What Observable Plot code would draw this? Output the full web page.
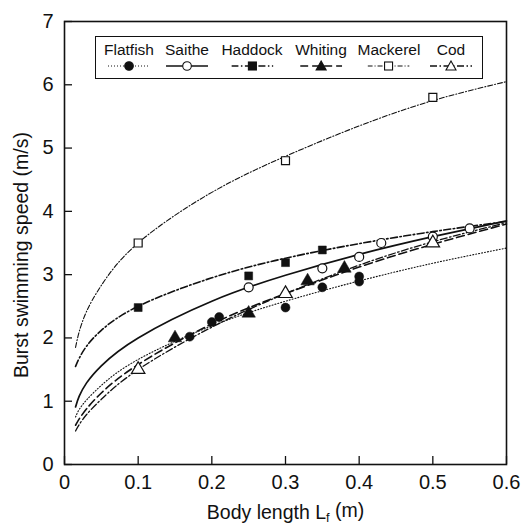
<!DOCTYPE html>
<html><head><meta charset="utf-8">
<script src="https://cdn.jsdelivr.net/npm/d3@7"></script>
<script src="https://cdn.jsdelivr.net/npm/@observablehq/plot@0.6"></script>
<style>
body{margin:0;background:#fff;font-family:"Liberation Sans",Arial,Helvetica,sans-serif;}
#wrap{position:relative;width:529px;height:526px;}
#legend{position:absolute;left:95px;top:36px;width:388px;height:43px;box-sizing:border-box;border:1.5px solid #111;background:#fff;}
.item{position:absolute;top:4px;text-align:center;font-size:15.5px;color:#111;white-space:nowrap;transform:translateX(-50%);line-height:17px;}
.item svg{display:block;margin:2px auto 0;}
</style></head><body><div id="wrap"></div>
<script>
// ---- data ----
const species = ["Flatfish", "Saithe", "Haddock", "Whiting", "Mackerel", "Cod"];
const xTicks = [0, 0.1, 0.2, 0.3, 0.4, 0.5, 0.6];
const yTicks = [0, 1, 2, 3, 4, 5, 6, 7];

// fitted curves, read at these body lengths (m)
const curveL = [0.015, 0.02, 0.03, 0.05, 0.1, 0.2, 0.3, 0.4, 0.5, 0.6];
const flatfishCurve = [0.75, 0.87, 1.02, 1.25, 1.66, 2.19, 2.58, 2.90, 3.18, 3.42];
const saitheCurve   = [0.91, 1.08, 1.29, 1.56, 2.00, 2.58, 2.99, 3.32, 3.60, 3.85];
const haddockCurve  = [1.55, 1.68, 1.87, 2.12, 2.50, 2.95, 3.26, 3.49, 3.68, 3.84];
const whitingCurve  = [0.62, 0.72, 0.88, 1.13, 1.58, 2.22, 2.70, 3.12, 3.48, 3.80];
const mackerelCurve = [1.85, 2.10, 2.42, 2.83, 3.50, 4.30, 4.87, 5.35, 5.75, 6.05];
const codCurve      = [0.53, 0.63, 0.79, 1.03, 1.50, 2.17, 2.70, 3.15, 3.52, 3.82];

// measured points
const flatfishL = [0.17, 0.20, 0.21, 0.30, 0.35, 0.40, 0.40];
const flatfishU = [2.02, 2.25, 2.33, 2.48, 2.80, 2.89, 2.97];
const saitheL = [0.25, 0.35, 0.40, 0.43, 0.50, 0.55];
const saitheU = [2.80, 3.10, 3.28, 3.50, 3.60, 3.73];
const haddockL = [0.10, 0.25, 0.30, 0.35];
const haddockU = [2.48, 2.98, 3.19, 3.39];
const whitingL = [0.15, 0.25, 0.33, 0.38];
const whitingU = [2.00, 2.39, 2.90, 3.10];
const mackerelL = [0.10, 0.30, 0.50];
const mackerelU = [3.50, 4.80, 5.80];
const codL = [0.10, 0.30, 0.50];
const codU = [1.50, 2.70, 3.50];

// ---- build tables ----
const curves = {Flatfish: flatfishCurve, Saithe: saitheCurve, Haddock: haddockCurve,
  Whiting: whitingCurve, Mackerel: mackerelCurve, Cod: codCurve};
const pts = {Flatfish: [flatfishL, flatfishU], Saithe: [saitheL, saitheU], Haddock: [haddockL, haddockU],
  Whiting: [whitingL, whitingU], Mackerel: [mackerelL, mackerelU], Cod: [codL, codU]};

const style = {
  Flatfish: {dash: "1,2", width: 1.1, symbol: "circle", filled: true},
  Saithe:   {dash: null, width: 1.7, symbol: "circle", filled: false},
  Haddock:  {dash: "7,2.5,1.5,2.5", width: 1.6, symbol: "square", filled: true},
  Whiting:  {dash: "8,4", width: 1.6, symbol: "triangle", filled: true},
  Mackerel: {dash: "5,2,1,2", width: 1.1, symbol: "square", filled: false},
  Cod:      {dash: "7,2.5,1.5,2.5", width: 1.3, symbol: "triangle", filled: false}
};

const ink = "#111";
const marks = [];
for (const s of species) {
  const lineData = curveL.map((L, i) => ({L, U: curves[s][i]}));
  const st = style[s];
  marks.push(Plot.line(lineData, {x: "L", y: "U", curve: "natural", stroke: ink,
    strokeWidth: st.width, strokeDasharray: st.dash}));
}
for (const s of species) {
  const [Ls, Us] = pts[s];
  const st = style[s];
  const d = Ls.map((L, i) => ({L, U: Us[i]}));
  marks.push(Plot.dot(d, {x: "L", y: "U", symbol: st.symbol,
    r: st.symbol === "triangle" ? 5 : 4.5,
    fill: st.filled ? ink : "white", stroke: ink, strokeWidth: st.filled ? 0.5 : 1.2}));
}

const W = 529, H = 526;
const mL = 64, mR = 23, mT = 21, mB = 62;
const innerW = W - mL - mR, innerH = H - mT - mB;

const chart = Plot.plot({
  width: W, height: H,
  marginLeft: mL, marginRight: mR, marginTop: mT, marginBottom: mB,
  style: {fontFamily: '"Liberation Sans", Arial, Helvetica, sans-serif', color: ink, background: "white"},
  x: {domain: [0, 0.6]},
  y: {domain: [0, 7]},
  marks: [
    ...marks,
    Plot.tickX(xTicks, {x: d => d, insetTop: innerH - 8, stroke: ink, strokeWidth: 1.3}),
    Plot.tickY(yTicks, {y: d => d, insetRight: innerW - 8, stroke: ink, strokeWidth: 1.3}),
    Plot.frame({stroke: ink, strokeWidth: 1.6}),
    Plot.axisX(xTicks, {tickSize: 0, tickPadding: 10, fontSize: 20, label: null,
      tickFormat: d => d === 0 ? "0" : d.toFixed(1)}),
    Plot.axisY(yTicks, {tickSize: 0, tickPadding: 11, fontSize: 20, label: null,
      tickFormat: d => String(d)}),
    Plot.text(["Body length Lf (m)"], {frameAnchor: "bottom", textAnchor: "middle", text: d => d,
      dy: 54, fontSize: 19.5, fill: ink}),
    Plot.text(["Burst swimming speed (m/s)"], {frameAnchor: "left", textAnchor: "middle", text: d => d,
      rotate: -90, dx: -43, dy: 12, fontSize: 19.5, fill: ink})
  ]
});

d3.select(chart).selectAll("text").filter(function () { return this.textContent === "Body length Lf (m)"; })
  .each(function () {
    const t = d3.select(this);
    t.text(null);
    t.append("tspan").text("Body length L");
    t.append("tspan").attr("dy", "0.25em").attr("font-size", "65%").text("f");
    t.append("tspan").attr("dy", "-0.25em").text(" (m)");
  });

const wrap = document.getElementById("wrap");
wrap.appendChild(chart);

// ---- legend ----
const legend = document.createElement("div");
legend.id = "legend";
const centers = [33, 91, 156, 225, 293, 355];
function markerSVG(s) {
  const st = style[s];
  const w = 42, h = 12, cx = w / 2, cy = h / 2;
  const fill = st.filled ? ink : "white";
  let sym;
  if (st.symbol === "circle") sym = `<circle cx="${cx}" cy="${cy}" r="4.3" fill="${fill}" stroke="${ink}" stroke-width="1.1"/>`;
  else if (st.symbol === "square") sym = `<rect x="${cx - 4}" y="${cy - 4}" width="8" height="8" fill="${fill}" stroke="${ink}" stroke-width="1.1"/>`;
  else sym = `<path d="M${cx},${cy - 5}L${cx + 5},${cy + 4}L${cx - 5},${cy + 4}Z" fill="${fill}" stroke="${ink}" stroke-width="1.1"/>`;
  const dash = st.dash ? `stroke-dasharray="${st.dash}"` : "";
  return `<svg width="${w}" height="${h}"><line x1="0" x2="${w}" y1="${cy}" y2="${cy}" stroke="${ink}" stroke-width="${Math.min(st.width, 1.3)}" ${dash}/>${sym}</svg>`;
}
species.forEach((s, i) => {
  const it = document.createElement("div");
  it.className = "item";
  it.style.left = centers[i] + "px";
  it.innerHTML = `<div>${s}</div>` + markerSVG(s);
  legend.appendChild(it);
});
wrap.appendChild(legend);
</script></body></html>
